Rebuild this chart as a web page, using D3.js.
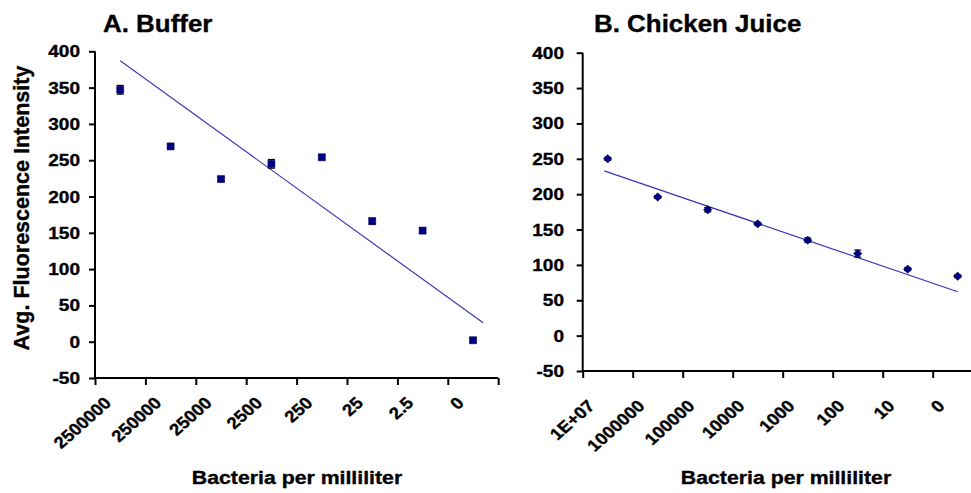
<!DOCTYPE html>
<html>
<head>
<meta charset="utf-8">
<script src="https://cdn.jsdelivr.net/npm/d3@7"></script>
<style>
  body { margin: 0; background: #fff; }
  text { font-family: "Liberation Sans", Arial, sans-serif; font-weight: bold; fill: #000; stroke: #000; stroke-width: 0.35px; }
</style>
</head>
<body>
<svg width="971" height="493"></svg>
<script>
// data
var bufferLabels = ["2500000", "250000", "25000", "2500", "250", "25", "2.5", "0"];
var bufferValues = [347, 269, 224, 245, 254, 166, 153, 2];
var bufferErrors = [6, 2, 3, 6, 3, 4, 3, 2];
var bufferTrend = [[1, 387], [8.2, 26]];

var juiceLabels = ["1E+07", "1000000", "100000", "10000", "1000", "100", "10", "0"];
var juiceValues = [250, 196, 178, 158, 135, 116, 94, 84];
var juiceErrors = [2, 2, 3, 2, 3, 5, 2, 2];
var juiceTrend = [[0.93, 233], [8, 62]];

var yTicks = d3.range(-50, 401, 50);
var titles = ["A. Buffer", "B. Chicken Juice"];
var xTitle = "Bacteria per milliliter";
var yTitle = "Avg. Fluorescence Intensity";

var svg = d3.select("svg");
var sx = 1.12; // the glyphs in the picture are a bit wide

var panels = [
  { labels: bufferLabels, values: bufferValues, errors: bufferErrors, trend: bufferTrend, title: titles[0],
    x0: 95, step: 50.4, yTop: 51.3, yBot: 378, titleX: 103, tickRight: 80, ldx: -8, ldy: 26, xtx: 297, marker: "square" },
  { labels: juiceLabels, values: juiceValues, errors: juiceErrors, trend: juiceTrend, title: titles[1],
    x0: 582.7, step: 50, yTop: 52.7, yBot: 371, titleX: 594, tickRight: 564, ldx: -12, ldy: 36, xtx: 786, marker: "diamond" }
];

panels.forEach(function(p) {
  var n = p.labels.length;
  var x = d3.scaleLinear().domain([0.5, n + 0.5]).range([p.x0, p.x0 + n * p.step]);
  var y = d3.scaleLinear().domain([-50, 400]).range([p.yBot, p.yTop]);
  var g = svg.append("g");

  // y axis
  var ya = g.append("g").attr("transform", "translate(" + p.x0 + ",0)")
    .call(d3.axisLeft(y).tickValues(yTicks).tickSize(6).tickFormat(""));
  ya.selectAll("path, line").attr("stroke", "#000").attr("stroke-width", 2);
  ya.select(".domain").attr("d", "M0," + y(400) + "V" + y(-50));

  g.selectAll(".ylab").data(yTicks).enter().append("text")
    .attr("text-anchor", "end")
    .attr("font-size", 17)
    .attr("transform", function(d) { return "translate(" + p.tickRight + "," + (y(d) + 6) + ") scale(" + sx + ",1)"; })
    .text(function(d) { return d; });

  // x axis, ticks between categories
  var xa = g.append("g").attr("transform", "translate(0," + p.yBot + ")")
    .call(d3.axisBottom(x).tickValues(d3.range(0.5, n + 0.6, 1)).tickSize(7).tickSizeOuter(0).tickFormat(""));
  xa.selectAll("path, line").attr("stroke", "#000").attr("stroke-width", 2);
  xa.select(".domain").attr("d", "M" + p.x0 + ",0H" + (p.x0 + n * p.step));

  g.selectAll(".xlab").data(p.labels).enter().append("text")
    .attr("text-anchor", "end")
    .attr("font-size", 16.5)
    .attr("transform", function(d, i) {
      return "translate(" + (x(i + 1) + p.ldx) + "," + (p.yBot + p.ldy) + ") scale(" + sx + ",1) rotate(-45)";
    })
    .text(function(d) { return d; });

  // trend line
  g.append("path")
    .attr("d", d3.line().x(function(d) { return x(d[0]); }).y(function(d) { return y(d[1]); })(p.trend))
    .attr("fill", "none").attr("stroke", "#3a3ab4").attr("stroke-width", 1.2);

  // error bars
  var eb = g.selectAll(".err").data(p.values).enter().append("g");
  eb.append("line")
    .attr("x1", function(d, i) { return x(i + 1); }).attr("x2", function(d, i) { return x(i + 1); })
    .attr("y1", function(d, i) { return y(d + p.errors[i]); }).attr("y2", function(d, i) { return y(d - p.errors[i]); })
    .attr("stroke", "#000").attr("stroke-width", 1.2);
  [1, -1].forEach(function(s) {
    eb.append("line")
      .attr("x1", function(d, i) { return x(i + 1) - 3.5; }).attr("x2", function(d, i) { return x(i + 1) + 3.5; })
      .attr("y1", function(d, i) { return y(d + s * p.errors[i]); }).attr("y2", function(d, i) { return y(d + s * p.errors[i]); })
      .attr("stroke", "#000").attr("stroke-width", 1.2);
  });

  // markers
  var shape = p.marker === "square" ? "M-3.5,-3.5H3.5V3.5H-3.5Z" : "M0,-4.2L4.2,0L0,4.2L-4.2,0Z";
  g.selectAll(".pt").data(p.values).enter().append("path")
    .attr("d", shape)
    .attr("transform", function(d, i) { return "translate(" + x(i + 1) + "," + y(d) + ")"; })
    .attr("fill", "#000080").attr("stroke", "#000066").attr("stroke-width", 0.6);

  // titles
  g.append("text")
    .attr("font-size", 24)
    .attr("transform", "translate(" + p.titleX + ",32) scale(1.08,1)")
    .text(p.title);

  g.append("text")
    .attr("text-anchor", "middle")
    .attr("font-size", 19)
    .attr("transform", "translate(" + p.xtx + ",484) scale(" + sx + ",1)")
    .text(xTitle);
});

svg.append("text")
  .attr("text-anchor", "middle")
  .attr("font-size", 21.5)
  .attr("transform", "translate(29,208) rotate(-90)")
  .text(yTitle);
</script>
</body>
</html>
